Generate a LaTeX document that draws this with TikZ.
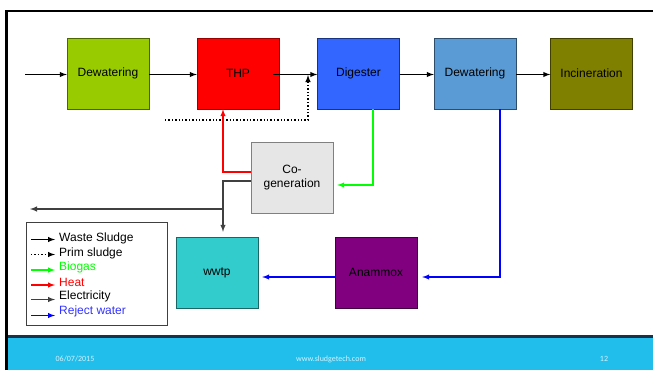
\documentclass[tikz,border=0pt]{standalone}
\usepackage{fontspec}
\setmainfont{Liberation Sans}
\newfontfamily\footfont{Carlito}
\definecolor{dewgreen}{HTML}{99CC00}
\definecolor{digblue}{HTML}{3366FF}
\definecolor{dewblue}{HTML}{5B9BD5}
\definecolor{incolive}{HTML}{808000}
\definecolor{cogray}{HTML}{E6E6E6}
\definecolor{wwtpcyan}{HTML}{33CCCC}
\definecolor{anpurple}{HTML}{800080}
\definecolor{elecgray}{HTML}{404040}
\definecolor{footblue}{HTML}{21BEEC}
\definecolor{footline}{HTML}{1B3147}
\begin{document}
\begin{tikzpicture}
	[x=1pt,y=-1pt,>=latex,
	box/.style={draw,minimum width=82pt,minimum height=71pt,inner sep=0pt,font=\fontsize{12}{14}\selectfont,align=center},
	flow/.style={line width=1.4pt},
	leg/.style={anchor=west,inner sep=0pt,font=\fontsize{12}{14}\selectfont},
	foot/.style={text=white!80!footblue,font=\footfont\fontsize{8}{9}\selectfont}]
	\useasboundingbox (0,0) rectangle (653,370);
	% frame and footer
	\fill[footblue] (7,337) rectangle (653,370);
	\fill[footline] (7,335) rectangle (653,337.5);
	\draw[line width=2.5pt] (6.5,370) -- (6.5,11) -- (653,11);
	\node[foot,name=date] at (75,359) {06/07/2015};
	\node[foot,name=web] at (331,359) {www.sludgetech.com};
	\node[foot,name=page] at (604,359) {12};
	% process boxes
	\node[box,name=dewa,fill=dewgreen,draw=dewgreen!50!black] at (108,73.5) {Dewatering};
	\node[box,name=thp,fill=red,draw=red!60!black] at (238,73.5) {THP};
	\node[box,name=dig,fill=digblue,draw=digblue!50!black] at (358.5,73.5) {Digester};
	\node[box,name=dewb,fill=dewblue,draw=dewblue!50!black] at (475,73.5) {Dewatering};
	\node[box,name=inc,fill=incolive,draw=incolive!50!black] at (591.5,73.5) {Incineration};
	\node[box,name=cogen,fill=cogray,draw=gray] at (292,177.5) {Co-\\generation};
	\node[box,name=wwtp,fill=wwtpcyan,draw=wwtpcyan!50!black] at (217,272.5) {wwtp};
	\node[box,name=anam,fill=anpurple,draw=anpurple!50!black] at (376,272.5) {Anammox};
	% free ends
	\coordinate (in) at (25,74.5);
	\coordinate (prim) at (165,120);
	\coordinate (join) at (308,75);
	\coordinate (ebr) at (223,209);
	\coordinate (eout) at (30,209);
	% waste sludge
	\draw[flow,->] (in) -- (dewa.west|-in);
	\draw[flow,->] (dewa.east|-in) -- (thp.west|-in);
	\draw[flow,->] ([xshift=-6pt]thp.east|-in) -- (dig.west|-in);
	\draw[flow,->] (dig.east|-in) -- (dewb.west|-in);
	\draw[flow,->] (dewb.east|-in) -- (inc.west|-in);
	% prim sludge
	\draw[flow,dotted,->] (prim) -| (join);
	% biogas
	\draw[flow,green,->,shorten >=4pt] ([xshift=14.5pt]dig.south) |- ([yshift=-7.5pt]cogen.east);
	% heat
	\draw[flow,red,->] ([yshift=5.5pt]cogen.west) -| ([xshift=-15pt]thp.south);
	% electricity
	\draw[flow,elecgray,->,shorten >=5pt] ([yshift=-3.5pt]cogen.west) -| ([xshift=6pt]wwtp.north);
	\draw[flow,elecgray,->] (ebr) -- (eout);
	% reject water
	\draw[flow,blue,->,shorten >=5pt] ([xshift=25pt]dewb.south) |- ([yshift=-4.5pt]anam.east);
	\draw[flow,blue,->,shorten >=4pt] ([yshift=-4.5pt]anam.west) -- ([yshift=-4.5pt]wwtp.east);
	% legend
	\node[draw=elecgray,line width=0.8pt,minimum width=141pt,minimum height=103pt,name=legend] at (96.5,273.5) {};
	\node[leg,name=lwaste] at (59,238) {Waste Sludge};
	\node[leg,name=lprim] at (59,253) {Prim sludge};
	\node[leg,name=lbio,text=green] at (59,267) {Biogas};
	\node[leg,name=lheat,text=red] at (59,282) {Heat};
	\node[leg,name=lelec] at (59,296) {Electricity};
	\node[leg,name=lrej,text=blue!80!white] at (59,311) {Reject water};
	\draw[flow,->] ([xshift=-28pt,yshift=-1.5pt]lwaste.west) -- ([xshift=-4pt,yshift=-1.5pt]lwaste.west);
	\draw[flow,dotted,->] ([xshift=-28pt,yshift=-1.5pt]lprim.west) -- ([xshift=-4pt,yshift=-1.5pt]lprim.west);
	\draw[flow,green,->] ([xshift=-28pt,yshift=-3pt]lbio.west) -- ([xshift=-4pt,yshift=-3pt]lbio.west);
	\draw[flow,red,->] ([xshift=-28pt,yshift=-3pt]lheat.west) -- ([xshift=-4pt,yshift=-3pt]lheat.west);
	\draw[flow,elecgray,->] ([xshift=-28pt,yshift=-3.5pt]lelec.west) -- ([xshift=-4pt,yshift=-3.5pt]lelec.west);
	\draw[flow,blue,->] ([xshift=-28pt,yshift=-4.5pt]lrej.west) -- ([xshift=-4pt,yshift=-4.5pt]lrej.west);
\end{tikzpicture}
\end{document}
